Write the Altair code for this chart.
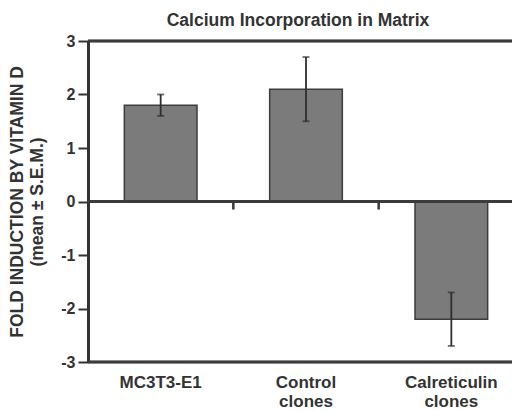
import altair as alt
import pandas as pd

categories = ["MC3T3-E1", "Control clones", "Calreticulin clones"]
values = [1.8, 2.1, -2.2]
errors = [0.2, 0.6, 0.5]
y_ticks = [-3, -2.5, -2, -1.5, -1, -0.5, 0, 0.5, 1, 1.5, 2, 2.5, 3]

df = pd.DataFrame({
    "cat": categories,
    "val": values,
    "lo": [v - e for v, e in zip(values, errors)],
    "hi": [v + e for v, e in zip(values, errors)],
})
bounds = pd.DataFrame({"cat": categories[1:], "y0": [0, 0], "y1": [-0.15, -0.15]})

FONT = "Liberation Sans"
INK = "#333333"

xscale = alt.Scale(domain=categories, paddingInner=0, paddingOuter=0, range=[0, 436])
yscale = alt.Scale(domain=[-3, 3], nice=False, zero=False, padding=0)

xenc = alt.X("cat:N", scale=xscale, sort=categories, title=None,
             axis=alt.Axis(labelAngle=0, domain=False, ticks=False, labelPadding=12,
                           labelFont=FONT, labelFontSize=17, labelFontWeight="bold",
                           labelColor=INK, labelBaseline="top", labelLineHeight=19,
                           labelExpr="datum.label == 'MC3T3-E1' ? datum.label : split(datum.label, ' ')"))

yaxis = alt.Axis(values=y_ticks, grid=False, domainWidth=3, domainColor=INK,
                 tickColor=INK, tickWidth=2,
                 tickSize={"condition": {"test": "datum.value % 1 !== 0", "value": 5}, "value": 10},
                 labelExpr="datum.value % 1 === 0 ? '' + datum.value : ''",
                 labelFont=FONT, labelFontSize=16, labelFontWeight="bold", labelColor=INK,
                 labelPadding=3,
                 title=["FOLD INDUCTION BY VITAMIN D", "(mean ± S.E.M.)"],
                 titleFont=FONT, titleFontSize=17.5, titleFontWeight="bold", titleColor=INK,
                 titleLineHeight=20, titlePadding=14)

bars = alt.Chart(df).mark_bar(width=alt.RelativeBandSize(0.5), fill="#7b7b7b",
                              stroke="#3c3c3c", strokeWidth=1.5).encode(
    x=xenc,
    y=alt.Y("val:Q", scale=yscale, axis=yaxis),
    y2=alt.datum(0),
)

err = alt.Chart(df).mark_rule(color="#2e2e2e", strokeWidth=1.8).encode(
    x=alt.X("cat:N", scale=xscale, sort=categories),
    y=alt.Y("lo:Q", scale=yscale),
    y2="hi:Q",
)
cap_lo = alt.Chart(df).mark_tick(color="#2e2e2e", thickness=1.8, size=7, orient="horizontal").encode(
    x=alt.X("cat:N", scale=xscale, sort=categories),
    y=alt.Y("lo:Q", scale=yscale),
)
cap_hi = alt.Chart(df).mark_tick(color="#2e2e2e", thickness=1.8, size=7, orient="horizontal").encode(
    x=alt.X("cat:N", scale=xscale, sort=categories),
    y=alt.Y("hi:Q", scale=yscale),
)

zero = alt.Chart(df).mark_rule(color="#3a3a3a", strokeWidth=2.5).encode(y=alt.datum(0))
top = alt.Chart(df).mark_rule(color="#3a3a3a", strokeWidth=2.5).encode(y=alt.datum(3))
bottom = alt.Chart(df).mark_rule(color="#3a3a3a", strokeWidth=2.5).encode(y=alt.datum(-3))

btick = alt.Chart(bounds).mark_rule(color="#3a3a3a", strokeWidth=2.5).encode(
    x=alt.X("cat:N", scale=xscale, sort=categories, bandPosition=0),
    y=alt.Y("y0:Q", scale=yscale),
    y2="y1:Q",
)

chart = alt.layer(bars, err, cap_lo, cap_hi, zero, top, bottom, btick).properties(
    width=424, height=321,
    autosize=alt.AutoSizeParams(type="none"),
    padding={"left": 80, "top": 33, "right": 0, "bottom": 52},
    title=alt.TitleParams("Calcium Incorporation in Matrix", font=FONT, fontSize=17.5,
                          fontWeight="bold", color=INK, anchor="middle", offset=4,
                          frame="group", dx=-2),
).configure_view(stroke=None).configure(background="white")

chart.save("out.html", embed_options={"renderer": "svg", "actions": False})
